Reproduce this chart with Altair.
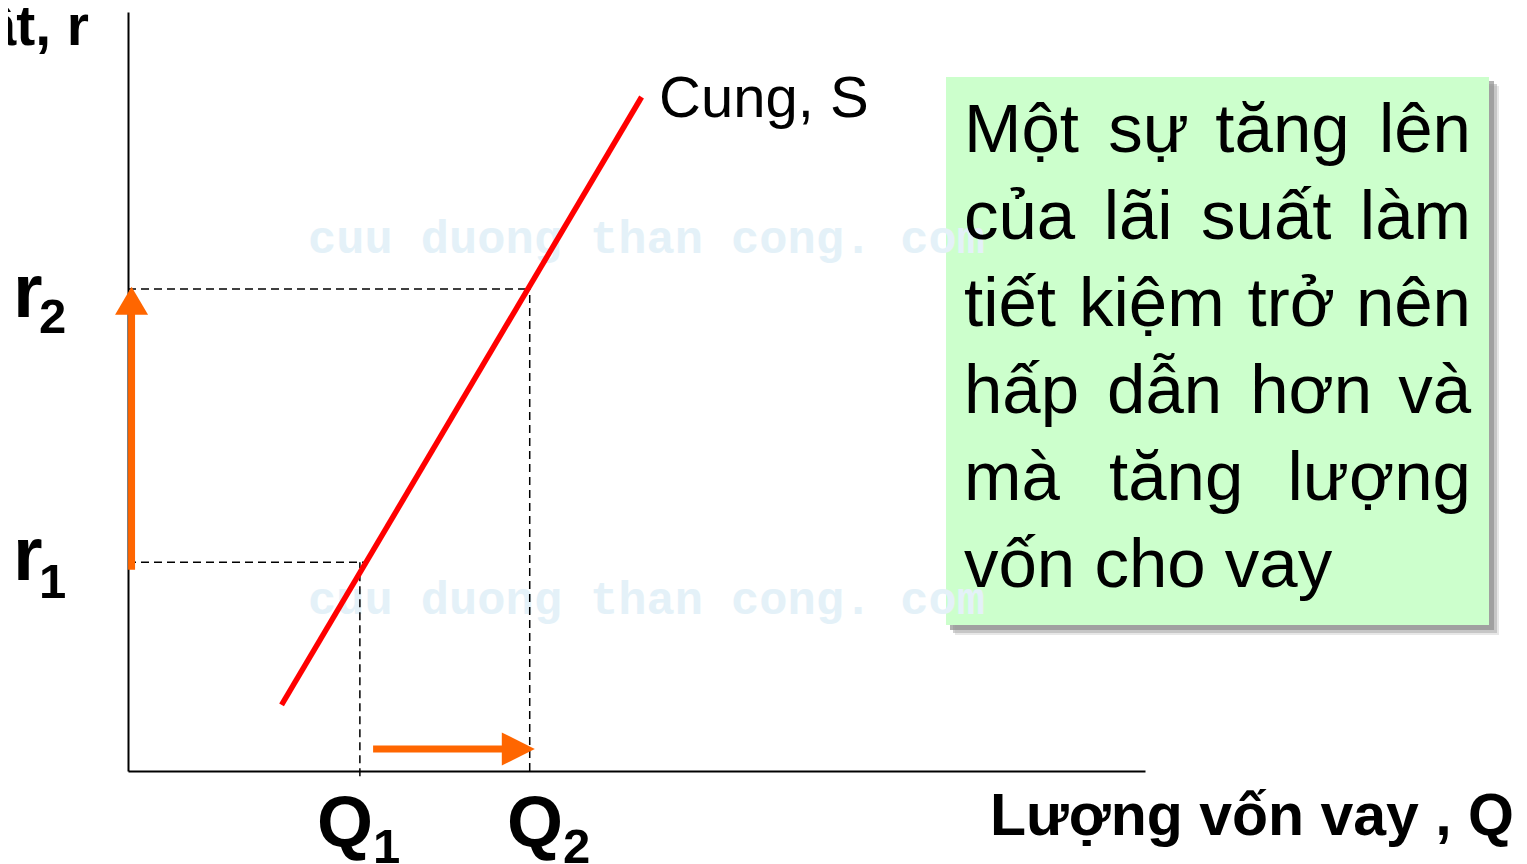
import unicodedata
import altair as alt
import pandas as pd

# ---------------- data (chart units: Q 0..100, r 0..100) ----------------
supply_q = [15.1, 50.5]          # supply curve end points (quantity)
supply_r = [8.7, 88.8]           # supply curve end points (interest rate)
q_levels = [22.8, 39.5]          # Q1, Q2
r_levels = [27.5, 63.5]          # r1, r2
q_labels = ["1", "2"]
r_labels = ["1", "2"]
arrow_up_r = [26.5, 63.8]        # orange vertical arrow: start, tip
arrow_up_q = 0.35
arrow_right_q = [24.1, 40.0]     # orange horizontal arrow: start, tip
arrow_right_r = 2.9
curve_label = "Cung, S"
x_title = "Lượng vốn vay , Q"
y_title = "Lãi suất, r"
box_lines = [
    "Một sự tăng lên",
    "của lãi suất làm",
    "tiết kiệm trở nên",
    "hấp dẫn hơn và",
    "mà tăng lượng",
    "vốn cho vay",
]
watermark = "cuu duong than cong. com"

# ---------------- layout (pixel geometry of the picture) ----------------
X0, X1, Y0, YT = 128, 1145, 771, 12
W, H = X1 - X0, Y0 - YT
PAD_L, PAD_T = X0 - 8, YT - 8
TOTAL_W, TOTAL_H = 1511, 856
FONT = "Liberation Sans"
ORANGE = "#FF6600"
Q_LABEL_PX = [317, 507]          # left edge of the "Q" labels (px)


def xd(px):
    return (px - X0) / W * 100


def yd(py):
    return (Y0 - py) / H * 100


def px_of_q(q):
    return X0 + q / 100 * W


def py_of_r(r):
    return Y0 - r / 100 * H


SX = alt.Scale(domain=[0, 100], nice=False, zero=False)
SY = alt.Scale(domain=[0, 100], nice=False, zero=False)
AX = alt.Axis(title=None, labels=False, ticks=False, grid=False,
              domain=True, domainColor="#000000", domainWidth=2)


def X(f="x"):
    return alt.X(f"{f}:Q", scale=SX, axis=AX)


def Y(f="y"):
    return alt.Y(f"{f}:Q", scale=SY, axis=AX)


def text_layer(rows, align, weight="normal", color="#000000", font=FONT):
    df = pd.DataFrame(rows, columns=["x", "y", "t", "fs"])
    return alt.Chart(df).mark_text(
        align=align, baseline="alphabetic", fontWeight=weight, color=color, font=font
    ).encode(x=X(), y=Y(), text="t:N", size=alt.Size("fs:Q", scale=None, legend=None))


def rect_layer(x1, x2, y1, y2, color, opacity=1.0):
    df = pd.DataFrame({"x": [xd(x1)], "x2": [xd(x2)], "y": [yd(y1)], "y2": [yd(y2)]})
    return alt.Chart(df).mark_rect(color=color, opacity=opacity).encode(
        x=X(), x2=alt.X2("x2"), y=Y(), y2=alt.Y2("y2"))


# ---------------- text box with soft shadow ----------------
BOX = (946, 1489, 77, 625)
layers = [
    rect_layer(BOX[0] + 9, BOX[1] + 10, BOX[2] + 9, BOX[3] + 10, "#d0d0d0", 0.5),
    rect_layer(BOX[0] + 7, BOX[1] + 8, BOX[2] + 7, BOX[3] + 8, "#b0b0b0", 0.6),
    rect_layer(BOX[0] + 4, BOX[1] + 5, BOX[2] + 4, BOX[3] + 5, "#909090", 0.7),
    rect_layer(*BOX, "#CCFFCC"),
]

# watermark
wm_rows = [[xd(308), yd(253), watermark, 47], [xd(308), yd(614), watermark, 47]]
layers.append(text_layer(wm_rows, "left", "bold", "#E4F1F8", "Liberation Mono"))

# ---------------- dashed guide lines ----------------
r_cross = supply_q[0] + (r_levels[0] - supply_r[0]) / (supply_r[1] - supply_r[0]) * (supply_q[1] - supply_q[0])
dash_df = pd.DataFrame({
    "x": [0, 0, q_levels[0], q_levels[1]],
    "x2": [r_cross, q_levels[1], q_levels[0], q_levels[1]],
    "y": [r_levels[0], r_levels[1], -0.7, 0],
    "y2": [r_levels[0], r_levels[1], r_levels[0], r_levels[1]],
})
layers.append(alt.Chart(dash_df).mark_rule(color="#000000", strokeWidth=1.5, strokeDash=[8, 5]).encode(
    x=X(), x2=alt.X2("x2"), y=Y(), y2=alt.Y2("y2")))

# ---------------- orange arrows ----------------
HEAD_V = (33, 28)   # width, height in px
HEAD_H = 33
tip_up_py = py_of_r(arrow_up_r[1])
tip_right_px = px_of_q(arrow_right_q[1])
shaft_df = pd.DataFrame({
    "x": [arrow_up_q, arrow_right_q[0]],
    "x2": [arrow_up_q, xd(tip_right_px - HEAD_H + 2)],
    "y": [arrow_up_r[0], arrow_right_r],
    "y2": [yd(tip_up_py + HEAD_V[1] - 2), arrow_right_r],
})
layers.append(alt.Chart(shaft_df).mark_rule(color=ORANGE, strokeWidth=7).encode(
    x=X(), x2=alt.X2("x2"), y=Y(), y2=alt.Y2("y2")))
head_up = pd.DataFrame({"x": [arrow_up_q], "y": [yd(tip_up_py + HEAD_V[1] / 2)]})
layers.append(alt.Chart(head_up).mark_point(
    shape="M0,-0.85L1,0.85L-1,0.85Z", size=HEAD_V[0] ** 2, filled=True, opacity=1,
    color=ORANGE, strokeWidth=0).encode(x=X(), y=Y()))
head_right = pd.DataFrame({"x": [xd(tip_right_px - HEAD_H / 2)], "y": [arrow_right_r]})
layers.append(alt.Chart(head_right).mark_point(
    shape="M-1,-1L1,0L-1,1Z", size=HEAD_H ** 2, filled=True, opacity=1,
    color=ORANGE, strokeWidth=0).encode(x=X(), y=Y()))

# ---------------- supply curve ----------------
supply_df = pd.DataFrame({"x": supply_q, "y": supply_r})
layers.append(alt.Chart(supply_df).mark_line(color="#FF0000", strokeWidth=5.5).encode(x=X(), y=Y()))

# ---------------- labels ----------------
bold_left = [
    [xd(13), yd(317), "r", 76],
    [xd(39), yd(333), r_labels[1], 49],
    [xd(13), yd(580), "r", 76],
    [xd(39), yd(598), r_labels[0], 49],
]
for qpx, sub in zip(Q_LABEL_PX, q_labels):
    bold_left.append([xd(qpx), yd(847), "Q", 72])
    bold_left.append([xd(qpx + 56), yd(863), sub, 49])
bold_left.append([xd(990), yd(835), x_title, 59])
layers.append(text_layer(bold_left, "left", "bold"))
layers.append(text_layer([[xd(89), yd(45), y_title, 57]], "right", "bold"))
layers.append(text_layer([[xd(659), yd(117), curve_label, 58]], "left"))

# justified paragraph in the box
CW = {" ": 278, "a": 556, "c": 500, "d": 556, "e": 556, "g": 556, "h": 556, "i": 222,
      "k": 500, "l": 222, "m": 833, "n": 556, "o": 556, "p": 556, "r": 333, "s": 500,
      "t": 278, "u": 556, "v": 500, "y": 500, "M": 833}


def word_width(word, fs):
    total = 0
    for ch in word:
        decomp = unicodedata.normalize("NFD", ch)
        total += CW.get(decomp[0], 556)
        if "\u031b" in decomp:
            total += 70
    return total / 1000 * fs


FS_BOX, LEFT, RIGHT, BASE0, STEP = 69, 964, 1471, 152, 87
left_rows, right_rows = [], []
for i, line in enumerate(box_lines):
    base = yd(BASE0 + i * STEP)
    words = line.split()
    if i == len(box_lines) - 1:
        left_rows.append([xd(LEFT), base, line, FS_BOX])
        continue
    widths = [word_width(w, FS_BOX) for w in words]
    gap = (RIGHT - LEFT - sum(widths)) / (len(words) - 1)
    xpos = LEFT
    for j, w in enumerate(words):
        if j == len(words) - 1:
            right_rows.append([xd(RIGHT), base, w, FS_BOX])
        else:
            left_rows.append([xd(xpos), base, w, FS_BOX])
        xpos += widths[j] + gap
layers.append(text_layer(left_rows, "left"))
layers.append(text_layer(right_rows, "right"))

chart = alt.layer(*layers).properties(
    width=W, height=H,
    padding={"left": PAD_L, "top": PAD_T, "right": TOTAL_W - PAD_L - W, "bottom": TOTAL_H - PAD_T - H},
    autosize=alt.AutoSizeParams(type="none"),
    background="#FFFFFF",
).configure_view(stroke=None)

chart.save("out.html", embed_options={"renderer": "svg", "actions": False})
